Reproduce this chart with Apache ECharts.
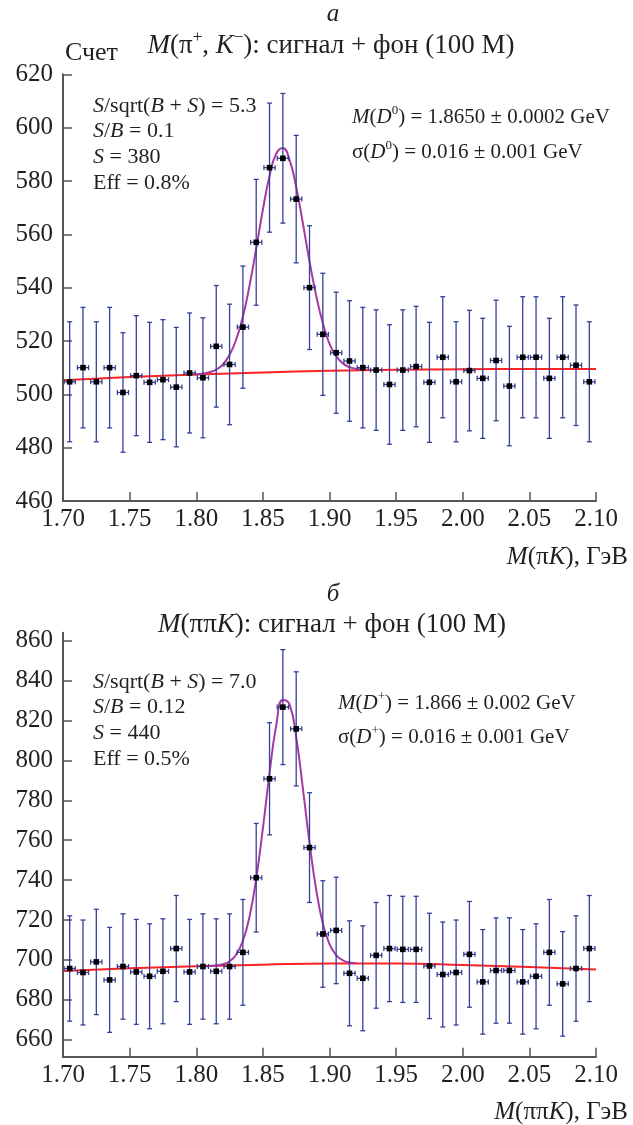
<!DOCTYPE html>
<html><head><meta charset="utf-8">
<script src="https://cdn.jsdelivr.net/npm/echarts@6/dist/echarts.min.js"></script>
<style>html,body{margin:0;padding:0;background:#fff}#c{width:633px;height:1125px}</style>
</head><body><div id="c"></div>
<script>
// ---- data ----
const binCenters = [1.705,1.715,1.725,1.735,1.745,1.755,1.765,1.775,1.785,1.795,1.805,1.815,1.825,1.835,1.845,1.855,1.865,1.875,1.885,1.895,1.905,1.915,1.925,1.935,1.945,1.955,1.965,1.975,1.985,1.995,2.005,2.015,2.025,2.035,2.045,2.055,2.065,2.075,2.085,2.095];

const countsA = [504.7,510.0,504.7,510.0,500.7,507.0,504.5,505.5,502.7,508.0,506.2,518.0,511.2,525.2,557.0,585.0,588.5,573.2,540.0,522.5,515.6,512.5,510.0,509.1,503.7,509.1,510.4,504.5,513.9,504.7,508.9,506.0,512.7,503.1,513.9,513.9,506.0,513.9,510.9,504.7];
const errorsA = [22.5,22.6,22.5,22.6,22.4,22.5,22.5,22.5,22.4,22.5,22.5,22.8,22.6,22.9,23.6,24.2,24.3,23.9,23.2,22.9,22.7,22.6,22.6,22.6,22.4,22.6,22.6,22.5,22.7,22.5,22.6,22.5,22.6,22.4,22.7,22.7,22.5,22.7,22.6,22.5];

const countsB = [695.7,693.7,699.0,690.0,696.7,694.0,691.8,694.3,705.7,694.0,696.7,694.3,696.7,703.8,741.2,790.8,826.7,815.8,756.3,713.0,714.8,693.3,690.8,702.3,705.7,705.3,705.3,697.0,692.7,693.7,702.8,689.0,694.7,694.7,689.0,691.8,703.8,688.0,695.7,705.7];
const errorsB = [26.4,26.3,26.4,26.3,26.4,26.3,26.3,26.3,26.6,26.3,26.4,26.3,26.4,26.5,27.2,28.1,28.8,28.6,27.5,26.7,26.7,26.3,26.3,26.5,26.6,26.6,26.6,26.4,26.3,26.3,26.5,26.2,26.4,26.4,26.2,26.3,26.5,26.2,26.4,26.6];

const bgX = [1.70,1.75,1.80,1.85,1.90,1.95,2.00,2.05,2.10];
const bgA = [505.3,506.5,507.4,508.2,508.8,509.2,509.4,509.5,509.5];
const bgB = [694.5,695.8,696.8,697.6,698.2,698.2,697.5,696.4,695.2];

const fitXA = [1.800,1.805,1.810,1.815,1.820,1.825,1.830,1.835,1.840,1.845,1.850,1.855,1.860,1.865,1.870,1.875,1.880,1.885,1.890,1.895,1.900,1.905,1.910,1.915,1.920,1.925];
const fitYA = [507.5,507.8,508.3,509.3,511.2,514.8,520.6,529.2,540.8,554.7,569.2,581.9,590.2,592.4,587.9,577.8,564.2,549.9,537.0,526.7,518.9,514.3,511.6,510.2,509.6,509.3];
const fitXB = [1.810,1.815,1.820,1.825,1.830,1.835,1.840,1.845,1.850,1.855,1.860,1.865,1.870,1.875,1.880,1.885,1.890,1.895,1.900,1.905,1.910,1.915,1.920];
const fitYB = [697.0,697.2,697.8,699.3,702.7,709.6,721.8,740.8,765.9,793.6,817.4,830.3,828.1,811.7,786.1,758.7,735.2,718.3,707.9,702.4,699.8,698.7,698.4];

const yTicksB = [660,680,700,720,740,760,780,800,820,840,860];

// ---- styling ----
const FONT = '"Liberation Serif","Times New Roman",serif';
const TXT = '#231f20';
const AXC = '#555555';
const EBC = '#33409a';

function rich(size) {
  const base = {fontSize: size, fontFamily: FONT, fill: TXT, lineHeight: Math.round(size * 1.25)};
  return {
    i: Object.assign({}, base, {fontStyle: 'italic'}),
    sup: {fontSize: Math.round(size * 0.62), fontFamily: FONT, fill: TXT, verticalAlign: 'top'}
  };
}
function label(text, x, y, size, align) {
  return {
    type: 'text', x: x, y: y, silent: true,
    style: {
      text: text, fontSize: size, fontFamily: FONT, fill: TXT,
      lineHeight: Math.round(size * 1.25),
      textAlign: align || 'left', textVerticalAlign: 'middle',
      align: align || 'left', verticalAlign: 'middle',
      rich: rich(size)
    }
  };
}

function xAxisCfg(gi) {
  return {
    type: 'value', gridIndex: gi, min: 1.70, max: 2.10, interval: 0.05,
    axisLine: {lineStyle: {color: AXC, width: 2}},
    axisTick: {inside: true, length: 9, lineStyle: {color: AXC, width: 1.5}},
    axisLabel: {fontFamily: FONT, fontSize: 25, color: TXT, margin: 6,
      showMinLabel: true, showMaxLabel: true, formatter: v => v.toFixed(2)},
    splitLine: {show: false}
  };
}
function yAxisCfg(gi, min, max, ticks) {
  const cfg = {
    type: 'value', gridIndex: gi, min: min, max: max,
    axisLine: {show: true, lineStyle: {color: AXC, width: 2}},
    axisTick: {show: true, inside: true, length: 9, lineStyle: {color: AXC, width: 1.5}},
    axisLabel: {fontFamily: FONT, fontSize: 25, color: TXT, margin: 10},
    splitLine: {show: false}
  };
  if (ticks) {
    cfg.axisTick.customValues = ticks;
    cfg.axisLabel.customValues = ticks;
  } else {
    cfg.interval = 20;
  }
  return cfg;
}

function errRender(params, api) {
  const x = api.value(0), y = api.value(1), e = api.value(2);
  const c = api.coord([x, y]);
  const t = api.coord([x, y + e]);
  const b = api.coord([x, y - e]);
  const l = api.coord([x - 0.0042, y]);
  const r = api.coord([x + 0.0042, y]);
  const ls = {stroke: EBC, lineWidth: 1.3};
  const cap = 2.5;
  return {
    type: 'group',
    children: [
      {type: 'line', shape: {x1: t[0], y1: t[1], x2: b[0], y2: b[1]}, style: ls},
      {type: 'line', shape: {x1: t[0] - cap, y1: t[1], x2: t[0] + cap, y2: t[1]}, style: ls},
      {type: 'line', shape: {x1: b[0] - cap, y1: b[1], x2: b[0] + cap, y2: b[1]}, style: ls},
      {type: 'line', shape: {x1: l[0], y1: l[1], x2: r[0], y2: r[1]}, style: ls},
      {type: 'line', shape: {x1: l[0], y1: l[1] - cap, x2: l[0], y2: l[1] + cap}, style: ls},
      {type: 'line', shape: {x1: r[0], y1: r[1] - cap, x2: r[0], y2: r[1] + cap}, style: ls},
      {type: 'rect', shape: {x: c[0] - 2.8, y: c[1] - 2.8, width: 5.6, height: 5.6}, style: {fill: '#000'}}
    ]
  };
}

function pairs(xs, ys) { return xs.map((x, i) => [x, ys[i]]); }

const series = [];
[[countsA, errorsA, bgA, fitXA, fitYA], [countsB, errorsB, bgB, fitXB, fitYB]].forEach((p, gi) => {
  series.push({
    type: 'line', xAxisIndex: gi, yAxisIndex: gi, data: pairs(bgX, p[2]),
    showSymbol: false, smooth: true, lineStyle: {color: '#ff2222', width: 2}, z: 2, silent: true
  });
  series.push({
    type: 'line', xAxisIndex: gi, yAxisIndex: gi, data: pairs(p[3], p[4]),
    showSymbol: false, smooth: true, lineStyle: {color: '#a63aa0', width: 2}, z: 3, silent: true
  });
  series.push({
    type: 'custom', xAxisIndex: gi, yAxisIndex: gi, renderItem: errRender,
    data: binCenters.map((x, i) => [x, p[0][i], p[1][i]]),
    encode: {x: 0, y: 1}, z: 4, silent: true, clip: false
  });
});

const chart = echarts.init(document.getElementById('c'), null, {renderer: 'canvas'});
chart.setOption({
  animation: false,
  backgroundColor: '#fff',
  grid: [
    {left: 63, top: 74.3, width: 533, height: 426.7},
    {left: 63, top: 632.7, width: 533, height: 424}
  ],
  xAxis: [xAxisCfg(0), xAxisCfg(1)],
  yAxis: [yAxisCfg(0, 460, 620, null), yAxisCfg(1, 651.5, 864, yTicksB)],
  series: series,
  graphic: [
    label('{i|а}', 333, 14, 25, 'center'),
    label('{i|M}(π{sup|+}, {i|K}{sup|−}): сигнал + фон (100 M)', 331, 46, 27, 'center'),
    label('Счет', 65, 53, 26, 'left'),
    label('{i|S}/sqrt({i|B} + {i|S}) = 5.3', 93, 106, 22, 'left'),
    label('{i|S}/{i|B} = 0.1', 93, 131, 22, 'left'),
    label('{i|S} = 380', 93, 157, 22, 'left'),
    label('Eff = 0.8%', 93, 183, 22, 'left'),
    label('{i|M}({i|D}{sup|0}) = 1.8650 ± 0.0002 GeV', 352, 117, 21, 'left'),
    label('σ({i|D}{sup|0}) = 0.016 ± 0.001 GeV', 352, 152, 21, 'left'),
    label('{i|M}(π{i|K}), ГэВ', 628, 557, 25, 'right'),

    label('{i|б}', 333, 594, 25, 'center'),
    label('{i|M}(ππ{i|K}): сигнал + фон (100 M)', 332, 625, 27, 'center'),
    label('{i|S}/sqrt({i|B} + {i|S}) = 7.0', 93, 682, 22, 'left'),
    label('{i|S}/{i|B} = 0.12', 93, 707, 22, 'left'),
    label('{i|S} = 440', 93, 733, 22, 'left'),
    label('Eff = 0.5%', 93, 759, 22, 'left'),
    label('{i|M}({i|D}{sup|+}) = 1.866 ± 0.002 GeV', 338, 703, 21, 'left'),
    label('σ({i|D}{sup|+}) = 0.016 ± 0.001 GeV', 338, 737, 21, 'left'),
    label('{i|M}(ππ{i|K}), ГэВ', 628, 1112, 25, 'right')
  ]
});
</script>
</body></html>
